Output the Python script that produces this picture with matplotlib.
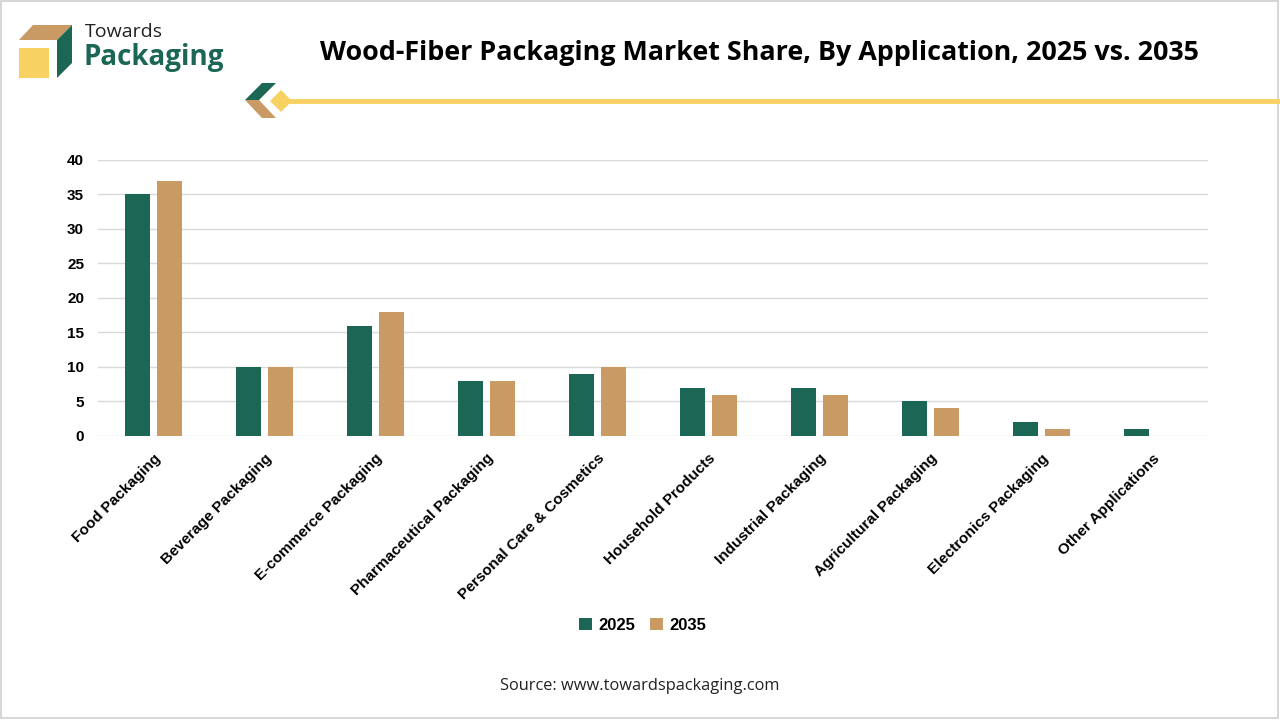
import numpy as np
import matplotlib.pyplot as plt
from matplotlib.patches import Polygon, Rectangle
from matplotlib.transforms import Affine2D

categories = ['Food Packaging', 'Beverage Packaging', 'E-commerce Packaging',
              'Pharmaceutical Packaging', 'Personal Care & Cosmetics',
              'Household Products', 'Industrial Packaging',
              'Agricultural Packaging', 'Electronics Packaging',
              'Other Applications']
share_2025 = [35, 10, 16, 8, 9, 7, 7, 5, 2, 1]
share_2035 = [37, 10, 18, 8, 10, 6, 6, 4, 1, 0]
series_names = ['2025', '2035']

GREEN = '#1b6655'
TAN = '#c99a64'
YELLOW = '#f7d262'

plt.rcParams['font.family'] = ['Open Sans', 'DejaVu Sans']
ARIAL = ['Liberation Sans', 'DejaVu Sans']

fig = plt.figure(figsize=(12.8, 7.2), dpi=100)
W, H = 1280, 720
# pixel transform with origin at top-left
px = Affine2D().scale(1 / W, -1 / H).translate(0, 1) + fig.transFigure

# outer border
fig.patches.append(Rectangle((1, 1), W - 3, H - 3, transform=px, fill=False,
                             edgecolor='#d0d0d0', linewidth=1.2))

# logo
fig.patches.append(Polygon([(19, 40), (33, 25), (72, 25), (57, 40)], closed=True,
                           transform=px, facecolor=TAN, edgecolor='none'))
fig.patches.append(Polygon([(57, 40), (72, 25), (72, 63), (57, 78)], closed=True,
                           transform=px, facecolor=GREEN, edgecolor='none'))
fig.patches.append(Rectangle((19, 48), 30, 30, transform=px,
                             facecolor=YELLOW, edgecolor='none'))
fig.text(85 / W, 1 - 32 / H, 'Towards', fontsize=14, color='#222222',
         va='center', ha='left')
fig.text(84 / W, 1 - 58 / H, 'Packaging', fontsize=20, fontweight='bold',
         color=GREEN, va='center', ha='left')

# title
fig.text(759 / W, 1 - 53 / H,
         'Wood-Fiber Packaging Market Share, By Application, 2025 vs. 2035',
         fontsize=19.4, fontweight='bold', color='black', ha='center', va='center')

# decorative line with small icon
fig.lines.append(plt.Line2D([285, 1280], [101, 101], transform=px, color=YELLOW,
                            linewidth=3.5))
fig.patches.append(Polygon([(245, 100), (262, 83), (276, 83), (259, 100)], closed=True,
                           transform=px, facecolor=GREEN, edgecolor='none'))
fig.patches.append(Polygon([(245, 100), (259, 100), (276, 118), (262, 118)], closed=True,
                           transform=px, facecolor=TAN, edgecolor='none'))
fig.patches.append(Polygon([(270, 101), (281, 90), (292, 101), (281, 112)], closed=True,
                           transform=px, facecolor=YELLOW, edgecolor='none'))

# chart
ax = fig.add_axes([98 / W, 1 - 436 / H, (1208 - 98) / W, (436 - 160) / H])
x = np.arange(len(categories))
bw = 0.225
off = 0.144
ax.bar(x - off, share_2025, bw, color=GREEN, label=series_names[0], zorder=3)
ax.bar(x + off, share_2035, bw, color=TAN, label=series_names[1], zorder=3)

ax.set_xlim(-0.5, len(categories) - 0.5)
ax.set_ylim(0, 40)
ax.set_yticks(range(0, 41, 5))
ax.grid(axis='y', color='#d9d9d9', linewidth=1, zorder=0)
for s in ax.spines.values():
    s.set_visible(False)
ax.tick_params(axis='both', length=0)
ax.tick_params(axis='y', pad=10)
for t in ax.get_yticklabels():
    t.set_fontweight('bold')
    t.set_fontsize(11)
    t.set_family(ARIAL)
ax.set_xticks(x)
ax.set_xticklabels(categories, rotation=45, ha='right', rotation_mode='anchor',
                   fontsize=11, fontweight='bold', family=ARIAL)
ax.tick_params(axis='x', pad=11)

leg = fig.legend(loc='center', bbox_to_anchor=(643 / W, 1 - 625 / H), ncol=2,
                 frameon=False, prop={'weight': 'bold', 'size': 12, 'family': ARIAL},
                 handlelength=0.75, handleheight=0.75, handletextpad=0.4,
                 columnspacing=0.9)

fig.text(640 / W, 1 - 686 / H, 'Source: www.towardspackaging.com', fontsize=11.8,
         ha='center', va='center', color='#222222')

fig.savefig('out.png', dpi=100)
